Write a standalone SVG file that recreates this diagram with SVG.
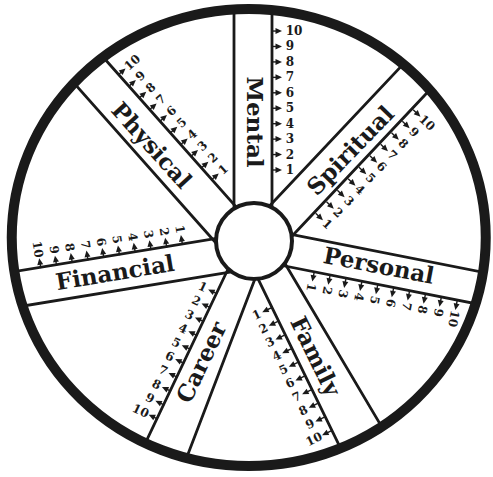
<svg xmlns="http://www.w3.org/2000/svg" width="493" height="477" viewBox="0 0 493 477">
<style>
.ln{stroke:#1a1a1a;stroke-width:2.8;fill:none}
.lbl{font-family:"DejaVu Serif",serif;font-weight:bold;font-size:23px;fill:#1a1a1a;text-anchor:middle;dominant-baseline:central}
.n{font-family:"DejaVu Serif",serif;font-weight:bold;font-size:12px;fill:#1a1a1a;text-anchor:middle;dominant-baseline:central}
</style>
<defs>
<clipPath id="wheel"><ellipse cx="248.75" cy="237.5" rx="237" ry="228.5"/></clipPath>
<g id="ar"><path d="M0,-5V0" stroke="#1a1a1a" stroke-width="1.4"/><path d="M-3,-1.5L0,5L3,-1.5Z" fill="#1a1a1a"/></g>
</defs>
<rect width="493" height="477" fill="#fff"/>
<g id="connectors" clip-path="url(#wheel)">
<path class="ln" d="M234,241V0M272,241V0"/>
<path class="ln" d="M260.5,234.4L61.3,10M231.3,260.3L32.1,35.9"/>
<path class="ln" d="M271.2,258.2L477,39.8M244.3,232.8L450.1,14.4"/>
<path class="ln" d="M255.7,227.3L550,285.5M249.4,259L543.7,317.2"/>
<path class="ln" d="M251.6,232.6L-44.5,281.2M257.4,267.6L-38.7,316.2"/>
<path class="ln" d="M243.5,236.5L114.8,507.4M264,255.3L174,490.7"/>
<path class="ln" d="M242.2,246.3L373.6,516M276.8,249.8L400.6,458.6"/>
</g>
<circle id="hub" cx="254" cy="241" r="38" fill="#fff" stroke="#1a1a1a" stroke-width="4"/>
<ellipse id="rim" cx="248.75" cy="237.5" rx="237" ry="228.5" fill="none" stroke="#1a1a1a" stroke-width="10"/>

<g id="mental">
<text class="lbl" transform="translate(255,122) rotate(90)">Mental</text>
<g transform="translate(277,170) rotate(-90)">
<use href="#ar" x="0"/><use href="#ar" x="15.44"/><use href="#ar" x="30.88"/><use href="#ar" x="46.32"/><use href="#ar" x="61.76"/><use href="#ar" x="77.2"/><use href="#ar" x="92.64"/><use href="#ar" x="108.08"/><use href="#ar" x="123.52"/><use href="#ar" x="138.96"/>
<text class="n" transform="translate(0,13) rotate(90)">1</text><text class="n" transform="translate(15.44,13) rotate(90)">2</text><text class="n" transform="translate(30.88,13) rotate(90)">3</text><text class="n" transform="translate(46.32,13) rotate(90)">4</text><text class="n" transform="translate(61.76,13) rotate(90)">5</text><text class="n" transform="translate(77.2,13) rotate(90)">6</text><text class="n" transform="translate(92.64,13) rotate(90)">7</text><text class="n" transform="translate(108.08,13) rotate(90)">8</text><text class="n" transform="translate(123.52,13) rotate(90)">9</text><text class="n" transform="translate(138.96,17) rotate(90)">10</text>
</g>
</g>

<g id="physical">
<text class="lbl" transform="translate(152,145) rotate(48)">Physical</text>
<g transform="translate(215,176.7) rotate(228.4)">
<use href="#ar" x="0"/><use href="#ar" x="15.6"/><use href="#ar" x="31.2"/><use href="#ar" x="46.8"/><use href="#ar" x="62.4"/><use href="#ar" x="78"/><use href="#ar" x="93.6"/><use href="#ar" x="109.2"/><use href="#ar" x="124.8"/><use href="#ar" x="140.4"/>
<text class="n" transform="translate(0,11) rotate(90)">1</text><text class="n" transform="translate(15.6,11) rotate(90)">2</text><text class="n" transform="translate(31.2,11) rotate(90)">3</text><text class="n" transform="translate(46.8,11) rotate(90)">4</text><text class="n" transform="translate(62.4,11) rotate(90)">5</text><text class="n" transform="translate(78,11) rotate(90)">6</text><text class="n" transform="translate(93.6,11) rotate(90)">7</text><text class="n" transform="translate(109.2,11) rotate(90)">8</text><text class="n" transform="translate(124.8,11) rotate(90)">9</text><text class="n" transform="translate(140.4,14) rotate(90)">10</text>
</g>
</g>

<g id="spiritual">
<text class="lbl" transform="translate(350,150) rotate(-46)">Spiritual</text>
<g transform="translate(319.3,216.7) rotate(-46.7)">
<use href="#ar" x="0"/><use href="#ar" x="15.8"/><use href="#ar" x="31.6"/><use href="#ar" x="47.4"/><use href="#ar" x="63.2"/><use href="#ar" x="79"/><use href="#ar" x="94.8"/><use href="#ar" x="110.6"/><use href="#ar" x="126.4"/><use href="#ar" x="142.2"/>
<text class="n" transform="translate(0,11) rotate(90)">1</text><text class="n" transform="translate(15.8,11) rotate(90)">2</text><text class="n" transform="translate(31.6,11) rotate(90)">3</text><text class="n" transform="translate(47.4,11) rotate(90)">4</text><text class="n" transform="translate(63.2,11) rotate(90)">5</text><text class="n" transform="translate(79,11) rotate(90)">6</text><text class="n" transform="translate(94.8,11) rotate(90)">7</text><text class="n" transform="translate(110.6,11) rotate(90)">8</text><text class="n" transform="translate(126.4,11) rotate(90)">9</text><text class="n" transform="translate(142.2,14) rotate(90)">10</text>
</g>
</g>

<g id="personal">
<text class="lbl" transform="translate(379,265) rotate(11)">Personal</text>
<g transform="translate(313.3,276.7) rotate(11.2)">
<use href="#ar" x="0"/><use href="#ar" x="16.2"/><use href="#ar" x="32.4"/><use href="#ar" x="48.6"/><use href="#ar" x="64.8"/><use href="#ar" x="81"/><use href="#ar" x="97.2"/><use href="#ar" x="113.4"/><use href="#ar" x="129.6"/><use href="#ar" x="145.8"/>
<text class="n" transform="translate(0,11) rotate(90)">1</text><text class="n" transform="translate(16.2,11) rotate(90)">2</text><text class="n" transform="translate(32.4,11) rotate(90)">3</text><text class="n" transform="translate(48.6,11) rotate(90)">4</text><text class="n" transform="translate(64.8,11) rotate(90)">5</text><text class="n" transform="translate(81,11) rotate(90)">6</text><text class="n" transform="translate(97.2,11) rotate(90)">7</text><text class="n" transform="translate(113.4,11) rotate(90)">8</text><text class="n" transform="translate(129.6,11) rotate(90)">9</text><text class="n" transform="translate(145.8,14) rotate(90)">10</text>
</g>
</g>

<g id="financial">
<text class="lbl" transform="translate(115,272) rotate(-9.5)">Financial</text>
<g transform="translate(181.7,240) rotate(170.7)">
<use href="#ar" x="0"/><use href="#ar" x="15.95"/><use href="#ar" x="31.9"/><use href="#ar" x="47.85"/><use href="#ar" x="63.8"/><use href="#ar" x="79.75"/><use href="#ar" x="95.7"/><use href="#ar" x="111.65"/><use href="#ar" x="127.6"/><use href="#ar" x="143.55"/>
<text class="n" transform="translate(0,11) rotate(-90)">1</text><text class="n" transform="translate(15.95,11) rotate(-90)">2</text><text class="n" transform="translate(31.9,11) rotate(-90)">3</text><text class="n" transform="translate(47.85,11) rotate(-90)">4</text><text class="n" transform="translate(63.8,11) rotate(-90)">5</text><text class="n" transform="translate(79.75,11) rotate(-90)">6</text><text class="n" transform="translate(95.7,11) rotate(-90)">7</text><text class="n" transform="translate(111.65,11) rotate(-90)">8</text><text class="n" transform="translate(127.6,11) rotate(-90)">9</text><text class="n" transform="translate(143.55,14) rotate(-90)">10</text>
</g>
</g>

<g id="career">
<text class="lbl" transform="translate(201,362) rotate(-64.6)">Career</text>
<g transform="translate(212.7,291.7) rotate(115.4)">
<use href="#ar" x="0"/><use href="#ar" x="15.4"/><use href="#ar" x="30.8"/><use href="#ar" x="46.2"/><use href="#ar" x="61.6"/><use href="#ar" x="77"/><use href="#ar" x="92.4"/><use href="#ar" x="107.8"/><use href="#ar" x="123.2"/><use href="#ar" x="138.6"/>
<text class="n" transform="translate(0,11) rotate(-90)">1</text><text class="n" transform="translate(15.4,11) rotate(-90)">2</text><text class="n" transform="translate(30.8,11) rotate(-90)">3</text><text class="n" transform="translate(46.2,11) rotate(-90)">4</text><text class="n" transform="translate(61.6,11) rotate(-90)">5</text><text class="n" transform="translate(77,11) rotate(-90)">6</text><text class="n" transform="translate(92.4,11) rotate(-90)">7</text><text class="n" transform="translate(107.8,11) rotate(-90)">8</text><text class="n" transform="translate(123.2,11) rotate(-90)">9</text><text class="n" transform="translate(138.6,14) rotate(-90)">10</text>
</g>
</g>

<g id="family">
<text class="lbl" transform="translate(316,356) rotate(64)">Family</text>
<g transform="translate(266.7,310) rotate(64.05)">
<use href="#ar" x="0"/><use href="#ar" x="15.2"/><use href="#ar" x="30.4"/><use href="#ar" x="45.6"/><use href="#ar" x="60.8"/><use href="#ar" x="76"/><use href="#ar" x="91.2"/><use href="#ar" x="106.4"/><use href="#ar" x="121.6"/><use href="#ar" x="136.8"/>
<text class="n" transform="translate(0,11) rotate(-90)">1</text><text class="n" transform="translate(15.2,11) rotate(-90)">2</text><text class="n" transform="translate(30.4,11) rotate(-90)">3</text><text class="n" transform="translate(45.6,11) rotate(-90)">4</text><text class="n" transform="translate(60.8,11) rotate(-90)">5</text><text class="n" transform="translate(76,11) rotate(-90)">6</text><text class="n" transform="translate(91.2,11) rotate(-90)">7</text><text class="n" transform="translate(106.4,11) rotate(-90)">8</text><text class="n" transform="translate(121.6,11) rotate(-90)">9</text><text class="n" transform="translate(136.8,14) rotate(-90)">10</text>
</g>
</g>
</svg>
